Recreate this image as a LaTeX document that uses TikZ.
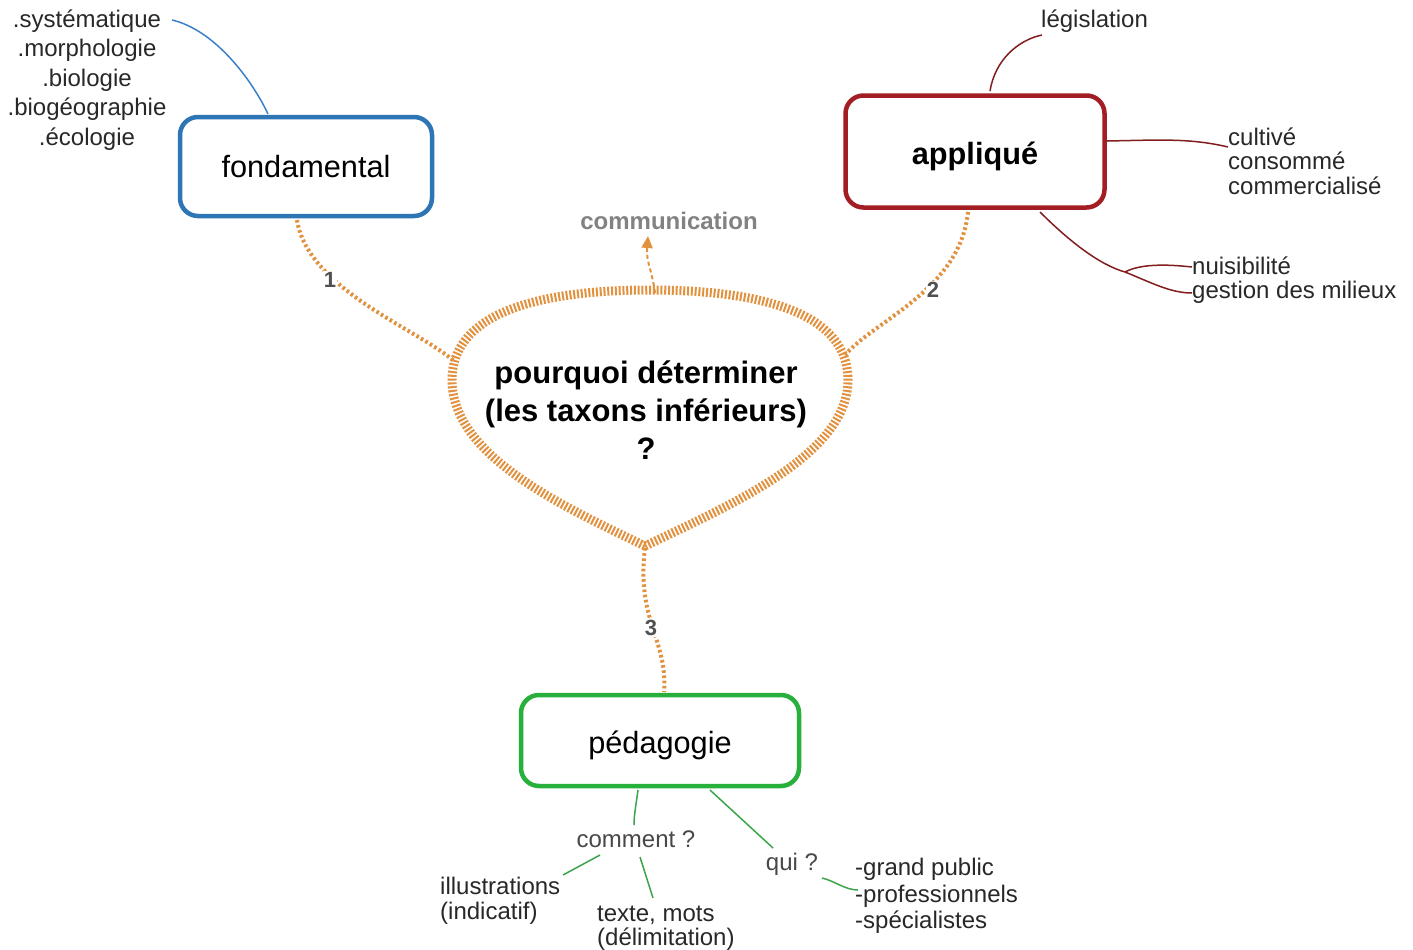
\documentclass[tikz,border=0pt]{standalone}
\usepackage{fontspec}
\setmainfont{Liberation Sans}
\usetikzlibrary{arrows.meta}
\definecolor{cblue}{RGB}{46,117,182}
\definecolor{cred}{RGB}{163,30,36}
\definecolor{cgreen}{RGB}{40,176,60}
\definecolor{corange}{RGB}{226,145,62}
\definecolor{ctext}{RGB}{40,40,40}
\definecolor{cgray}{RGB}{130,130,130}
\definecolor{clab}{RGB}{80,80,80}
\definecolor{lblue}{RGB}{60,130,200}
\definecolor{lred}{RGB}{130,30,30}
\definecolor{lgreen}{RGB}{60,165,75}
\tikzset{
  mainbox/.style={draw, rounded corners=18pt, line width=4.5pt, fill=white, inner sep=0pt, text=black},
  big/.style={font=\fontsize{30.7}{38}\selectfont},
  small/.style={font=\fontsize{24}{29.5}\selectfont, text=ctext, inner sep=0pt},
  leaf/.style={font=\fontsize{24}{24.5}\selectfont, text=ctext, inner sep=0pt, align=left, anchor=west},
  dotcon/.style={draw=corange, line width=4pt, dash pattern=on 2.6pt off 2.6pt},
  numlab/.style={font=\fontsize{22}{22}\bfseries\selectfont, text=clab, fill=white, inner sep=1pt},
  bline/.style={draw=lblue, line width=1.5pt},
  rline/.style={draw=lred, line width=1.5pt},
  gline/.style={draw=lgreen, line width=1.5pt},
}
\begin{document}
\begin{tikzpicture}[x=1pt,y=-1pt]
\useasboundingbox (0,0) rectangle (1413,950);
\fill[white] (0,0) rectangle (1413,950);

% central shape
\draw[corange, line width=9pt, dash pattern=on 2pt off 1.8pt]
  (645,546) .. controls (560,505) and (452,455) .. (452,380)
  .. controls (452,305) and (560,290) .. (650,290)
  .. controls (740,290) and (848,305) .. (848,380)
  .. controls (848,455) and (730,505) .. (645,546) -- cycle;
\node[font=\fontsize{31}{38}\bfseries\selectfont, align=center, inner sep=0pt] (q) at (646,410) {pourquoi déterminer\\(les taxons inférieurs)\\?};

% main boxes
\node[mainbox, draw=cblue, big, minimum width=252pt, minimum height=99pt] (fond) at (306,166.5) {fondamental};
\node[mainbox, draw=cred, font=\fontsize{30.7}{38}\bfseries\selectfont, minimum width=259pt, minimum height=112pt, text height=26pt, text depth=0pt] (appl) at (975,151.5) {appliqué};
\node[mainbox, draw=cgreen, big, minimum width=278pt, minimum height=91pt, text height=26pt, text depth=0pt] (peda) at (660,740.5) {pédagogie};

% coordinates on central shape
\coordinate (qL) at (455,362);
\coordinate (qR) at (845,355);
\coordinate (qB) at (645,548);
\coordinate (qT) at (655,293);

% dotted connectors
\draw[dotcon] (297,220) .. controls (308,290) and (420,330) .. (qL);
\node[numlab] (n1) at (330,280) {1};
\draw[dotcon] (968,212) .. controls (960,290) and (875,320) .. (qR);
\node[numlab] (n2) at (933,290) {2};
\draw[dotcon] (qB) .. controls (636,620) and (668,640) .. (664,692);
\node[numlab] (n3) at (651,628) {3};

% communication
\node[font=\fontsize{24}{24}\bfseries\selectfont, text=cgray, inner sep=0pt] (comm) at (669,221) {communication};
\draw[corange, line width=2pt, dash pattern=on 4pt off 3pt, -{Triangle[length=12pt,width=11pt]}] (qT) .. controls (652,270) and (646,262) .. (648,236);

% fondamental leaves
\node[small, align=center] (fl) at (87,80) {.systématique\\.morphologie\\.biologie\\.biogéographie\\.écologie};
\coordinate (sysE) at (172,20);
\draw[bline] (sysE) .. controls (215,30) and (252,80) .. (268,114);

% appliqué leaves
\node[small, anchor=west] (leg) at (1041,21) {législation};
\draw[rline] (990,91) .. controls (995,60) and (1018,40) .. (1042,35);
\node[leaf] (cult) at (1228,161) {cultivé\\consommé\\commercialisé};
\draw[rline] (1107,141) .. controls (1160,140) and (1190,138) .. (1228,147);
\node[leaf] (nuis) at (1192,280) {nuisibilité\\gestion des milieux};
\coordinate (split) at (1125,272);
\draw[rline] (1040,212) .. controls (1070,242) and (1100,265) .. (split);
\draw[rline] (split) .. controls (1140,264) and (1165,264) .. (1192,267);
\draw[rline] (split) .. controls (1150,282) and (1170,293) .. (1192,293);

% pédagogie leaves
\node[small, text=ctext!85] (com) at (636,839) {comment ?};
\node[small, text=ctext!85] (qui) at (792,864) {qui ?};
\node[leaf] (ill) at (440,901) {illustrations\\(indicatif)};
\node[leaf] (tex) at (597,928) {texte, mots\\(délimitation)};
\node[leaf, font=\fontsize{24}{26.5}\selectfont] (grp) at (855,896) {-grand public\\-professionnels\\-spécialistes};
\draw[gline] (638,790) .. controls (636,805) and (634,815) .. (634,825);
\draw[gline] (600,855) -- (563,875);
\draw[gline] (640,857) -- (653,898);
\draw[gline] (710,790) -- (773,848);
\draw[gline] (822,878) .. controls (835,881) and (845,890) .. (858,890);
\end{tikzpicture}
\end{document}
